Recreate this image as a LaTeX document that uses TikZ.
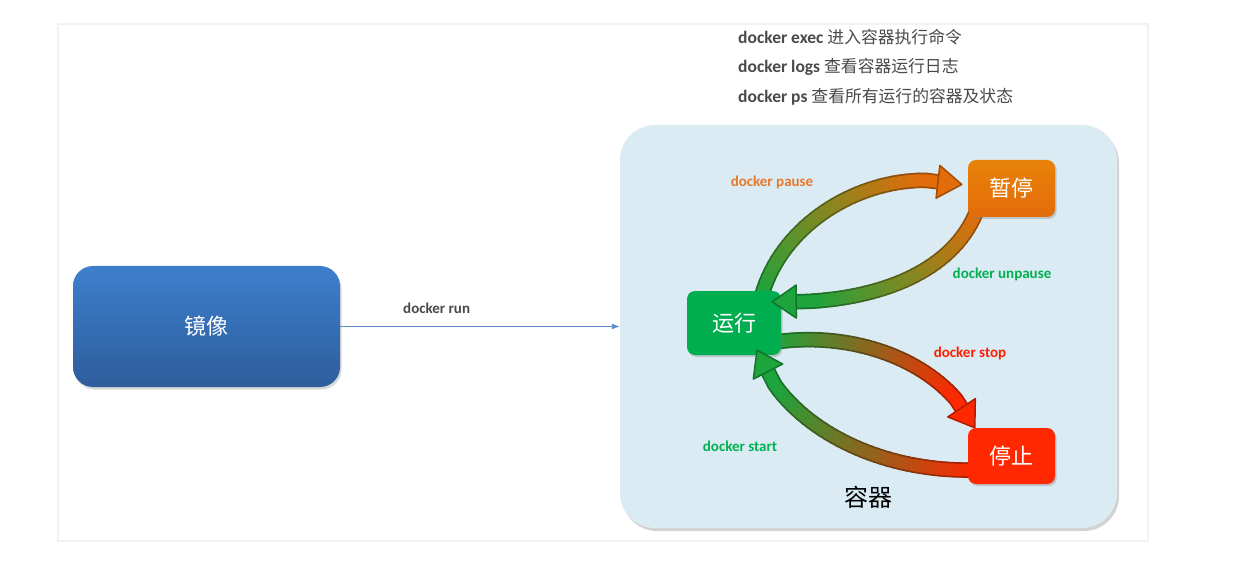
\documentclass[tikz,border=0pt]{standalone}
\usepackage{fontspec}
\setmainfont{Carlito}
\newfontfamily\cjk{Noto Sans CJK SC}
\usetikzlibrary{shadows,calc,decorations.markings,arrows.meta}
\definecolor{imgtop}{HTML}{3D7FCD}
\definecolor{imgbot}{HTML}{2E5D9C}
\definecolor{runline}{HTML}{5B8FD0}
\definecolor{panelfill}{HTML}{DAEBF4}
\definecolor{rungreen}{HTML}{00AE4F}
\definecolor{arrgreen}{HTML}{1DA43C}
\definecolor{pauseorange}{HTML}{E36C0A}
\definecolor{stopred}{HTML}{FF2800}
\definecolor{labgreen}{HTML}{00B050}
\definecolor{laborange}{HTML}{E8782A}
\definecolor{labred}{HTML}{FF1F00}
\definecolor{txtgray}{HTML}{4A4A4A}

% #1 prefix, #2..#5 curve points (names), #6 start colour, #7 end colour
\newcommand\gradshaft[7]{%
 \path[decorate,decoration={markings,mark=between positions 0 and 1 step 0.025 with {\coordinate (g\pgfkeysvalueof{/pgf/decoration/mark info/sequence number});}}] (#2) .. controls (#3) and (#4) .. (#5);
 \coordinate (#1hb) at ($(#5)!24pt!(g35)$);
 \coordinate (#1hs) at ($(#5)!20pt!(g35)$);
 \coordinate (#1h1) at ($(#1hb)!16.5pt!90:(#5)$);
 \coordinate (#1h2) at ($(#1hb)!16.5pt!-90:(#5)$);
 \foreach \i in {1,...,34}{%
   \pgfmathtruncatemacro\pp{100-(\i-1)*100/34}%
   \pgfmathtruncatemacro\nn{\i+1}%
   \draw[line width=15.5pt,line cap=round,color=#6!\pp!#7!70!black] (g\i) -- (g\nn);
 }
 \draw[line width=15.5pt,color=#7!70!black] (g35) -- (#1hb);
 \foreach \i in {1,...,34}{%
   \pgfmathtruncatemacro\pp{100-(\i-1)*100/34}%
   \pgfmathtruncatemacro\nn{\i+1}%
   \draw[line width=12pt,line cap=round,color=#6!\pp!#7] (g\i) -- (g\nn);
 }
 \draw[line width=12pt,color=#7] (g35) -- (#1hs);
}
% #1 prefix, #2 tip, #3 colour
\newcommand\gradhead[3]{%
 \filldraw[fill=#3,draw=#3!70!black,line width=1.5pt,line join=round] (#1h1) -- (#2) -- (#1h2) -- cycle;
}

\tikzset{
  statebox/.style={rounded corners=8pt, inner sep=0pt, text=white,
     font=\cjk\fontsize{22}{26}\selectfont,
     drop shadow={shadow xshift=1.5pt,shadow yshift=-2pt,opacity=0.35}},
  lab/.style={font=\fontsize{15}{18}\selectfont\bfseries},
  toptext/.style={anchor=west, text=txtgray, font=\fontsize{17.5}{20}\selectfont\bfseries, inner sep=0pt}
}

\begin{document}
\begin{tikzpicture}[x=1pt,y=-1pt]
\useasboundingbox (0,0) rectangle (1248,572);
\fill[white] (0,0) rectangle (1248,572);
\draw[draw=black!5, line width=2pt, fill=white] (58,24) rectangle (1148,541);

% top texts
\node[toptext] (t1) at (738,37) {docker exec {\cjk\mdseries\fontsize{16.8}{20}\selectfont 进入容器执行命令}};
\node[toptext] (t2) at (738,67) {docker logs {\cjk\mdseries\fontsize{16.8}{20}\selectfont 查看容器运行日志}};
\node[toptext] (t3) at (738,97) {docker ps {\cjk\mdseries\fontsize{16.8}{20}\selectfont 查看所有运行的容器及状态}};

% image box
\node[rounded corners=20pt, minimum width=267pt, minimum height=121pt, inner sep=0pt,
      top color=imgtop, bottom color=imgbot, text=white,
      font=\cjk\fontsize{22}{26}\selectfont,
      drop shadow={shadow xshift=1.5pt,shadow yshift=-2.5pt,opacity=0.3}] (img) at (206.5,326.5) {镜像};

% container panel
\node[rounded corners=35pt, minimum width=497pt, minimum height=403pt, inner sep=0pt,
      fill=panelfill,
      drop shadow={shadow xshift=2pt,shadow yshift=-3pt,opacity=0.35}] (ctr) at (868.5,326.5) {};
\node[font=\cjk\fontsize{24}{28}\selectfont, text=black] (ctrlab) at ($(ctr.south)+(0,-31)$) {容器};

% docker run
\draw[runline, line width=1pt, -{Latex[length=8pt,width=6pt]}] (img.east) -- (ctr.west)
   node[pos=0.345, above=9pt, lab, text=txtgray] (runlab) {docker run};

% state positions (nodes drawn after the shafts)
\path (734,323) coordinate (runc) (1011.5,188.5) coordinate (pausec) (1011.5,456) coordinate (stopc);
\path[use as bounding box] ;
\node[minimum width=94pt, minimum height=64pt, inner sep=0pt] (run) at (runc) {};
\node[minimum width=87pt, minimum height=57pt, inner sep=0pt] (pause) at (pausec) {};
\node[minimum width=87pt, minimum height=56pt, inner sep=0pt] (stop) at (stopc) {};

% arrow coordinates
\coordinate (pa0) at ($(run.north)+(28,4)$);
\coordinate (pa1) at (785,215);
\coordinate (pa2) at (880,165);
\coordinate (pa3) at ($(pause.west)+(-6,-4)$);
\coordinate (ua0) at ($(pause.south west)+(8,-4)$);
\coordinate (ua1) at (950,275);
\coordinate (ua2) at (870,305);
\coordinate (ua3) at ($(run.north east)+(-9,11)$);
\coordinate (sa0) at ($(run.east)+(-6,19)$);
\coordinate (sa1) at (860,330);
\coordinate (sa2) at (945,365);
\coordinate (sa3) at ($(stop.north west)+(7,0)$);
\coordinate (ta0) at ($(stop.west)+(5,14)$);
\coordinate (ta1) at (870,472);
\coordinate (ta2) at (780,420);
\coordinate (ta3) at ($(run.south)+(23,-5)$);

\gradshaft{P}{pa0}{pa1}{pa2}{pa3}{arrgreen}{pauseorange}
\gradshaft{U}{ua0}{ua1}{ua2}{ua3}{pauseorange}{arrgreen}
\gradshaft{S}{sa0}{sa1}{sa2}{sa3}{arrgreen}{stopred}
\gradshaft{T}{ta0}{ta1}{ta2}{ta3}{stopred}{arrgreen}

% state boxes
\node[statebox, fill=rungreen, minimum width=94pt, minimum height=64pt] (runbox) at (run) {运行};
\node[statebox, top color=pauseorange!85!yellow, bottom color=pauseorange, minimum width=87pt, minimum height=57pt] (pausebox) at (pause) {暂停};
\node[statebox, fill=stopred, minimum width=87pt, minimum height=56pt] (stopbox) at (stop) {停止};

\gradhead{P}{pa3}{pauseorange}
\gradhead{U}{ua3}{arrgreen}
\gradhead{S}{sa3}{stopred}
\gradhead{T}{ta3}{arrgreen}

% labels
\node[lab, text=laborange] (pauselab) at (772,182) {docker pause};
\node[lab, text=labgreen] (unpauselab) at (1002,274) {docker unpause};
\node[lab, text=labred] (stoplab) at (970,353) {docker stop};
\node[lab, text=labgreen] (startlab) at (740,446) {docker start};
\end{tikzpicture}
\end{document}
